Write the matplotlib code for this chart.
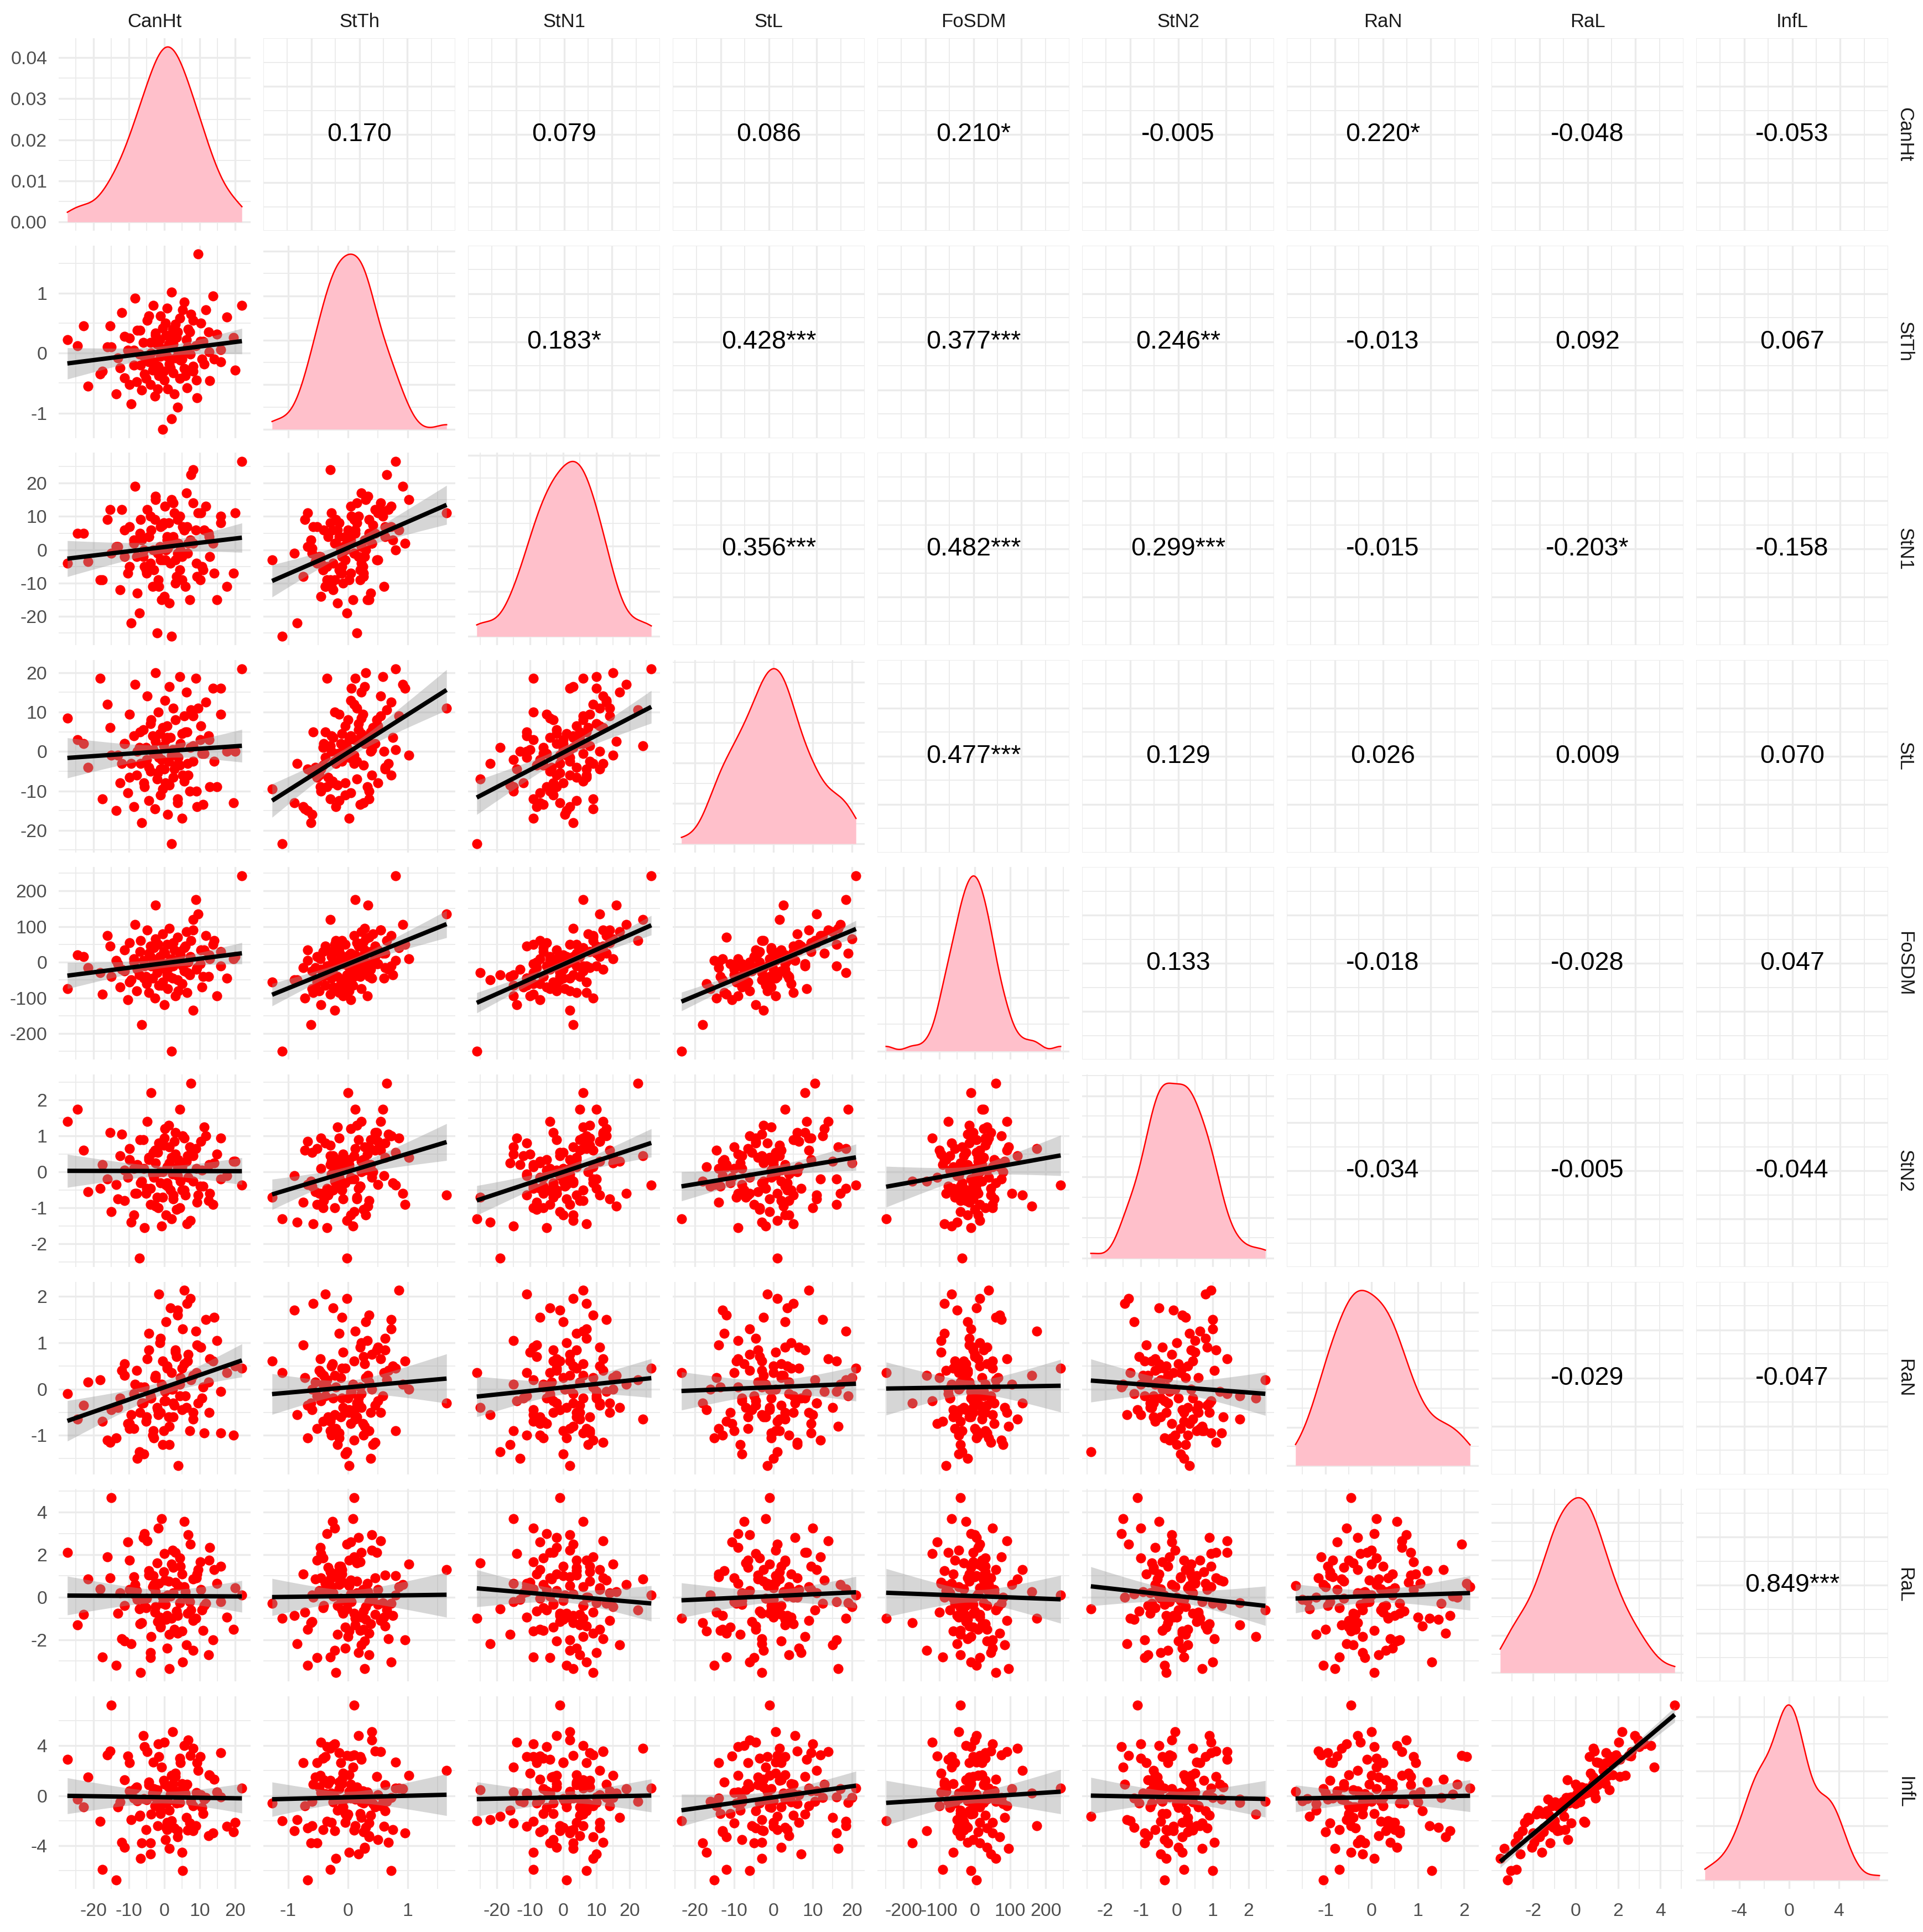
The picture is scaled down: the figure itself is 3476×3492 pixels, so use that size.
import numpy as np
import matplotlib.pyplot as plt

plt.rcParams['font.family'] = ['Liberation Sans', 'DejaVu Sans']
plt.rcParams['axes.unicode_minus'] = False

CanHt = [-27.3, -21.5, -17.5, -15.0, -13.6, -12.4, -11.2, -10.2, -9.3, -8.5,
         -7.7, -7.0, -6.3, -5.6, -5.0, -4.4, -3.8, -3.2, -2.6, -2.0,
         -1.5, -1.0, -0.5, 0.0, 0.5, 1.0, 1.5, 2.0, 2.6, 3.2,
         3.8, 4.4, 5.0, 5.7, 6.4, 7.2, 8.1, 9.2, 10.6, 12.8,
         -24.5, -18.0, -15.2, -13.0, -11.2, -9.8, -8.6, -7.6, -6.7, -5.9,
         -5.1, -4.4, -3.7, -3.0, -2.4, -1.8, -1.2, -0.7, -0.2, 0.3,
         0.8, 1.3, 1.8, 2.3, 2.8, 3.4, 4.0, 4.6, 5.2, 5.9,
         6.6, 7.4, 8.2, 9.1, 10.1, 11.2, 12.5, 14.0, 16.0, 20.0,
         -22.8, -16.0, -12.0, -9.8, -8.2, -6.9, -5.8, -4.8, -3.9, -3.1,
         -2.4, -1.7, -1.0, -0.4, 0.2, 0.8, 1.4, 2.0, 2.6, 3.2,
         3.8, 4.4, 5.0, 5.6, 6.2, 6.8, 7.5, 8.2, 8.9, 9.6,
         10.3, 11.0, 11.8, 12.7, 13.7, 14.8, 16.0, 17.6, 19.5, 21.9]

StTh = [0.22, -0.55, -0.30, 0.10, -0.68, -0.25, -0.41, 0.05, -0.85, -0.20,
        -0.48, -0.02, -0.62, -0.35, -0.12, -0.15, -0.52, -0.28, -0.72, 0.15,
        -0.38, -0.05, -1.27, -0.45, 0.30, -0.60, -0.18, -1.10, -0.33, -0.08,
        -0.90, -0.42, 0.02, -0.26, -0.58, 0.35, -0.22, -0.75, -0.10, -0.46,
        0.12, -0.35, 0.45, -0.08, 0.28, -0.52, 0.05, 0.38, -0.20, 0.18,
        -0.42, 0.62, 0.00, -0.15, 0.33, -0.60, 0.22, 0.08, -0.30, 0.50,
        -0.05, 0.15, -0.25, 0.40, -0.68, 0.26, 0.02, -0.12, 0.72, -0.38,
        0.10, -0.02, 0.55, -0.45, 0.20, -0.18, 0.35, -0.10, 0.06, -0.28,
        0.45, 0.10, 0.68, 0.25, 0.92, 0.38, -0.05, 0.55, 0.18, 0.80,
        0.30, -0.22, 0.62, 0.42, 0.05, 0.75, 0.28, 1.02, 0.15, 0.48,
        0.35, 0.58, -0.10, 0.85, 0.22, 0.40, 0.65, -0.30, 0.12, 1.65,
        0.50, 0.20, 0.72, 0.02, 0.95, 0.32, -0.15, 0.60, 0.26, 0.80]

StN1 = [-4.0, -3.5, -9.0, -1.0, 1.0, -12.0, 6.0, -7.0, -22.0, 2.0,
        -2.0, -19.0, 3.0, -5.0, -7.0, 4.0, -4.0, -11.0, 9.0, -25.0,
        -11.0, -3.0, -3.0, -14.0, 0.0, 0.5, -16.0, -26.0, 4.0, -10.0,
        -1.0, -6.0, -9.0, 6.0, 7.0, -15.0, 2.0, -8.0, -5.0, -2.0,
        5.0, -9.0, 12.0, 1.0, -2.0, 7.0, 3.0, -13.0, 9.0, -2.0,
        -6.0, 4.0, 6.0, -6.0, 16.0, -1.0, 1.0, -15.0, 8.0, -3.0,
        4.0, 8.0, -4.0, 2.0, 11.0, -8.0, 2.0, 0.0, 7.0, -11.0,
        -1.0, 3.0, 14.0, -4.0, -9.0, 6.0, 5.0, -7.0, 10.0, 11.0,
        5.0, 9.0, 12.0, -5.0, 19.0, 5.0, 0.0, 12.0, 10.0, 0.0,
        15.0, -9.0, 7.0, 7.5, 13.0, 3.0, 3.0, 15.0, 14.0, -3.0,
        9.0, 10.0, -2.0, 6.0, 17.0, 2.0, 22.5, 24.0, 6.0, 11.0,
        11.0, -6.0, 13.0, 4.0, 2.0, -15.0, 8.0, -11.0, -7.0, 26.5]

StL = [8.5, -4.0, -12.0, -1.0, -15.0, -8.0, 2.0, -10.5, -3.0, -14.0,
       -6.0, 1.0, -18.0, -9.0, -2.0, -12.5, -5.0, 4.0, -14.5, -7.0,
       -1.5, -11.0, -9.5, -4.5, 3.0, -16.0, -8.5, -23.4, -6.5, 0.5,
       -13.0, -3.5, -17.0, -7.5, 5.0, -10.0, -2.5, -14.0, -0.5, -9.0,
       3.0, 18.5, 6.0, -1.0, 2.0, -6.5, 4.0, 0.0, -3.0, 5.5,
       1.0, -4.0, 8.0, -0.5, 2.5, -5.5, 4.5, -2.0, 1.5, -8.0,
       6.5, -2.5, 3.5, 0.5, -4.5, -3.5, -1.5, 2.0, -6.0, 5.0,
       -3.0, 1.0, 9.0, -10.0, 3.0, -0.5, 4.0, -2.5, 16.0, 0.0,
       2.0, 12.0, -3.0, 9.5, 17.0, 5.0, -8.0, 14.0, 7.0, 0.5,
       20.0, 10.0, -4.5, 6.0, 13.0, 3.5, 16.5, -1.0, 11.0, 8.0,
       -12.0, 19.0, 4.5, 9.0, 15.0, -6.0, 10.5, 1.5, 18.5, 11.0,
       6.5, -13.5, 12.5, 3.0, 16.0, -9.0, 9.5, 0.0, -13.0, 21.0]

FoSDM = [-75, -15, -90, -40, 5, -70, -25, -105, -50, 0,
         -80, -35, -175, -10, -60, -85, 15, -45, -100, -30,
         -65, -5, -55, -120, -20, -75, -40, -249, -10, -95,
         -50, 30, -60, -25, -85, -35, -135, -15, -70, 10,
         20, -30, 45, -5, 35, -55, 10, -20, 60, 5,
         -40, 25, -10, 40, 160, -25, 15, -65, 30, -5,
         50, -15, 5, -45, 35, 0, -80, 20, -10, 45,
         -30, 15, 90, -20, -5, 35, -40, 60, -10, 15,
         15, 75, -20, 55, 105, 30, -45, 90, 45, 5,
         65, 50, -15, 80, 25, -35, 95, 10, 55, -5,
         70, 25, -60, 40, 85, 0, 60, 120, 175, 135,
         35, -40, 75, 20, 50, -95, 30, -45, 10, 242]

StN2 = [1.40, -0.55, 0.20, -1.10, -0.35, 0.45, -0.80, -0.15, -1.40, 0.10,
        -0.60, -2.40, -0.25, -1.55, -0.45, 0.35, -0.90, -0.05, 0.60, -0.70,
        0.80, -0.30, -0.70, 0.95, -1.20, -0.40, 0.25, -1.30, -0.65, 0.50,
        -0.10, -1.00, 0.15, -0.50, -1.45, 0.70, -0.25, -0.85, 0.05, -0.60,
        1.75, -0.45, 1.10, -0.75, 0.05, 0.65, -1.20, 0.20, -0.30, 0.90,
        -0.60, 0.40, 2.20, -0.15, -0.95, 0.55, 0.00, -1.50, 0.75, -0.35,
        0.15, 1.30, -0.50, -0.05, 0.85, -1.05, 0.35, -0.25, 1.00, -0.65,
        0.45, -1.35, 0.60, 0.10, -0.40, 1.25, -0.80, 0.25, -0.20, 0.30,
        0.60, -0.20, 1.05, 0.35, -0.60, 0.90, 0.10, 1.40, -0.45, 0.55,
        0.25, -1.00, 0.80, 0.00, 1.20, -0.30, 0.70, 0.40, -0.75, 1.10,
        0.15, 1.75, -0.50, 0.95, 0.30, -0.15, 2.47, 0.45, 0.65, -0.65,
        0.85, -0.40, 1.00, 0.20, -0.90, 0.50, 0.95, -0.10, 0.30, -0.36]

RaN = [-0.10, 0.15, -0.70, -0.45, -1.05, -0.20, 0.30, -0.75, -0.55, -0.85,
       0.40, -1.35, -0.30, 0.05, -0.60, 1.20, -0.15, -1.00, 0.25, -0.40,
       2.05, -0.50, 0.60, -0.25, 1.45, 0.00, -1.20, 0.35, -0.60, 0.80,
       1.70, 0.10, -0.45, 0.55, 1.85, -0.90, 0.30, 0.95, -0.20, 0.65,
       -0.65, 0.20, -1.15, -0.40, 0.55, -0.85, -0.10, -1.50, 0.05, -0.30,
       -0.70, 0.85, -0.20, -1.05, 0.30, -0.45, 1.00, 0.10, -0.90, -0.25,
       0.45, -0.60, 1.75, 0.00, -0.35, 0.70, -1.65, 0.25, 1.30, -0.15,
       0.60, 1.95, -0.50, 0.35, 0.90, -0.95, 0.15, 1.55, -0.05, 0.50,
       -0.35, -1.10, 0.40, -0.75, 0.10, -0.50, -1.40, 0.65, -0.20, -0.90,
       0.25, -0.55, 1.10, -1.20, -0.05, 0.50, -0.80, 0.00, -0.30, 0.85,
       1.60, -0.15, 0.45, 2.13, -0.40, 0.75, 0.20, -0.65, 1.25, -0.30,
       0.90, 0.05, 1.50, -0.50, 0.60, 1.05, -0.95, 0.35, -1.00, 0.45]

RaL = [2.10, 0.85, -2.80, 4.68, -3.20, 0.20, -0.40, 2.60, -2.20, 0.95,
       0.30, -0.55, -1.20, 3.00, -0.05, 1.25, -2.85, 0.50, -0.70, 1.60,
       0.65, -1.40, -0.30, 2.05, -1.05, 0.10, -1.75, -1.00, 1.40, 0.70,
       -0.85, 1.85, -1.60, 3.55, 0.00, -0.20, -2.50, 1.10, -0.60, 2.35,
       -1.30, 0.40, 0.90, -0.75, -2.05, 1.75, 0.15, -0.10, -3.55, 2.80,
       -0.50, 1.05, -1.85, 0.60, 0.25, -1.15, -0.95, 3.70, 1.20, -0.35,
       -2.40, 0.75, 0.05, 2.20, -1.50, -0.65, 0.55, 1.45, -3.05, 0.25,
       -0.75, 2.50, -1.10, 0.90, 1.65, -0.40, -2.70, 1.30, -0.20, 0.45,
       -0.80, 1.90, -1.95, 0.35, 0.60, -1.25, -0.15, 2.65, -2.60, 1.00,
       -0.45, 3.25, -1.35, 0.00, 0.80, -0.85, -3.35, 1.55, 0.20, 2.10,
       -1.70, -0.25, 1.10, 0.50, -2.25, 2.95, -0.60, 0.85, -1.00, 1.30,
       0.35, -1.55, -0.30, 1.75, -2.00, 0.65, 1.45, -0.95, -1.50, 0.10]

InfL = [2.90, 1.50, -5.90, 7.25, -6.74, -0.50, 1.25, 3.15, -1.90, -0.20,
        0.70, -1.65, -3.80, 3.90, -0.35, 1.10, -3.80, 0.20, -0.80, 0.45,
        3.10, -1.45, -0.60, 4.25, -2.55, -0.45, -1.15, -2.00, 0.95, 1.80,
        -2.80, 3.00, -4.55, 4.00, 0.90, -2.20, -2.80, 2.65, -0.95, 1.60,
        -0.30, -2.05, 3.55, -0.90, -4.15, 2.65, -0.20, -0.40, -5.00, 4.80,
        -2.70, 0.85, -1.50, 0.55, 0.20, -2.40, -0.50, 2.30, 1.20, -3.50,
        -2.15, 0.70, 0.10, 5.10, -2.60, -0.60, 0.35, 2.65, -6.00, 0.15,
        -2.75, 3.20, -0.80, 0.25, 3.10, -0.30, -3.20, 1.30, -0.10, -2.15,
        -0.90, 3.25, -3.75, 0.40, 0.55, -1.55, -0.25, 3.50, -4.65, 2.70,
        -0.15, 4.15, -1.20, -0.65, 0.90, -2.70, -4.20, 1.60, 0.40, 1.55,
        -3.30, -0.55, 0.95, 0.60, -1.75, 4.45, -0.45, 3.80, -2.40, 2.00,
        0.05, -1.45, -0.15, 1.65, -3.00, 0.30, 3.45, -2.45, -2.90, 0.60]

names = ['CanHt', 'StTh', 'StN1', 'StL', 'FoSDM', 'StN2', 'RaN', 'RaL', 'InfL']
series = [CanHt, StTh, StN1, StL, FoSDM, StN2, RaN, RaL, InfL]

breaks = [[-20, -10, 0, 10, 20],
          [-1, 0, 1],
          [-20, -10, 0, 10, 20],
          [-20, -10, 0, 10, 20],
          [-200, -100, 0, 100, 200],
          [-2, -1, 0, 1, 2],
          [-1, 0, 1, 2],
          [-2, 0, 2, 4],
          [-4, 0, 4]]

# correlation labels printed in the upper triangle, row by row
cor_text = [
    ['0.170', '0.079', '0.086', '0.210*', '-0.005', '0.220*', '-0.048', '-0.053'],
    ['0.183*', '0.428***', '0.377***', '0.246**', '-0.013', '0.092', '0.067'],
    ['0.356***', '0.482***', '0.299***', '-0.015', '-0.203*', '-0.158'],
    ['0.477***', '0.129', '0.026', '0.009', '0.070'],
    ['0.133', '-0.018', '-0.028', '0.047'],
    ['-0.034', '-0.005', '-0.044'],
    ['-0.029', '-0.047'],
    ['0.849***'],
]

GRID = '#EBEBEB'
TICK_COL = '#4D4D4D'
STRIP_COL = '#1A1A1A'

W, H, DPI = 3476, 3492, 300
LEFT, TOP = 106, 69
STEP_X, STEP_Y = 370, 374.6
PW, PH = 347, 348

data = [np.array(s, dtype=float) for s in series]
n_var = len(names)


def limits(v):
    lo, hi = v.min(), v.max()
    pad = 0.05 * (hi - lo)
    return lo - pad, hi + pad


def minors(major, lo, hi):
    step = major[1] - major[0]
    m = np.arange(major[0] - step / 2, major[-1] + step, step)
    return [t for t in m if lo <= t <= hi]


def nice_step(top, max_bins=5):
    k = 10.0 ** np.floor(np.log10(top)) / 100
    while True:
        for m in (1, 2, 2.5, 5):
            if top / (m * k) <= max_bins:
                return m * k
        k *= 10


def kde(v):
    n = len(v)
    sd = v.std(ddof=1)
    q75, q25 = np.percentile(v, [75, 25])
    bw = 0.9 * min(sd, (q75 - q25) / 1.34) * n ** -0.2
    xs = np.linspace(v.min(), v.max(), 512)
    ys = np.exp(-0.5 * ((xs[:, None] - v[None, :]) / bw) ** 2).sum(1) / (n * bw * np.sqrt(2 * np.pi))
    return xs, ys


def fmt(t):
    return '%g' % t


def base_style(ax):
    for s in ax.spines.values():
        s.set_visible(False)
    ax.set_axisbelow(True)
    ax.grid(which='major', color=GRID, lw=0.8)
    ax.grid(which='minor', color=GRID, lw=0.45)
    ax.tick_params(which='both', length=0, labelsize=8.1, labelcolor=TICK_COL)
    ax.tick_params(axis='x', pad=6)
    ax.tick_params(axis='y', pad=5)


fig = plt.figure(figsize=(W / DPI, H / DPI), dpi=DPI)

for i in range(n_var):
    for j in range(n_var):
        left = (LEFT + j * STEP_X) / W
        bottom = 1 - (TOP + i * STEP_Y + PH) / H
        ax = fig.add_axes([left, bottom, PW / W, PH / H])
        base_style(ax)

        if i < j:
            # correlation text panel
            ax.set_xlim(0, 1)
            ax.set_ylim(0, 1)
            ax.set_xticks([0.25, 0.5, 0.75])
            ax.set_xticks([0, 0.125, 0.375, 0.625, 0.875, 1], minor=True)
            ax.set_yticks([0.25, 0.5, 0.75])
            ax.set_yticks([0, 0.125, 0.375, 0.625, 0.875, 1], minor=True)
            ax.tick_params(labelbottom=False, labelleft=False)
            ax.text(0.5, 0.5, cor_text[i][j - i - 1], ha='center', va='center',
                    fontsize=11.2, color='black')
            continue

        x = data[j]
        xlo, xhi = limits(x)
        ax.set_xlim(xlo, xhi)
        ax.set_xticks(breaks[j])
        ax.set_xticks(minors(breaks[j], xlo, xhi), minor=True)
        ax.set_xticklabels([fmt(t) for t in breaks[j]])

        if i == j:
            xs, ys = kde(x)
            ymax = ys.max()
            ax.fill_between(xs, 0, ys, color='pink', lw=0, zorder=2)
            ax.plot(xs, ys, color='red', lw=0.6, zorder=3)
            ylo, yhi = -0.05 * ymax, 1.05 * ymax
            ax.set_ylim(ylo, yhi)
            step = nice_step(ymax)
            yt = np.arange(0, yhi, step)
            ax.set_yticks(yt)
            ax.set_yticks([t + step / 2 for t in yt if t + step / 2 <= yhi], minor=True)
            ax.set_yticklabels(['%.2f' % t for t in yt])
        else:
            y = data[i]
            ylo, yhi = limits(y)
            ax.set_ylim(ylo, yhi)
            ax.set_yticks(breaks[i])
            ax.set_yticks(minors(breaks[i], ylo, yhi), minor=True)
            ax.set_yticklabels([fmt(t) for t in breaks[i]])

            ax.scatter(x, y, s=19, color='red', lw=0, zorder=2)
            n = len(x)
            b1, b0 = np.polyfit(x, y, 1)
            xs = np.linspace(x.min(), x.max(), 80)
            yhat = b0 + b1 * xs
            resid = y - (b0 + b1 * x)
            s_err = np.sqrt((resid ** 2).sum() / (n - 2))
            sxx = ((x - x.mean()) ** 2).sum()
            band = 1.98 * s_err * np.sqrt(1 / n + (xs - x.mean()) ** 2 / sxx)
            ax.fill_between(xs, yhat - band, yhat + band, color='#999999', alpha=0.4,
                            lw=0, zorder=3)
            ax.plot(xs, yhat, color='black', lw=1.9, zorder=4, solid_capstyle='butt')

        if i != n_var - 1:
            ax.tick_params(labelbottom=False)
        if j != 0:
            ax.tick_params(labelleft=False)

# strip labels
for k, name in enumerate(names):
    xc = (LEFT + k * STEP_X + PW / 2) / W
    fig.text(xc, 1 - 49 / H, name, ha='center', va='baseline', fontsize=8.3, color=STRIP_COL)
    yc = 1 - (TOP + k * STEP_Y + PH / 2) / H
    fig.text(3443 / W, yc, name, ha='center', va='center', rotation=-90,
             fontsize=8.3, color=STRIP_COL)

fig.savefig('out.png', dpi=DPI, facecolor='white')
